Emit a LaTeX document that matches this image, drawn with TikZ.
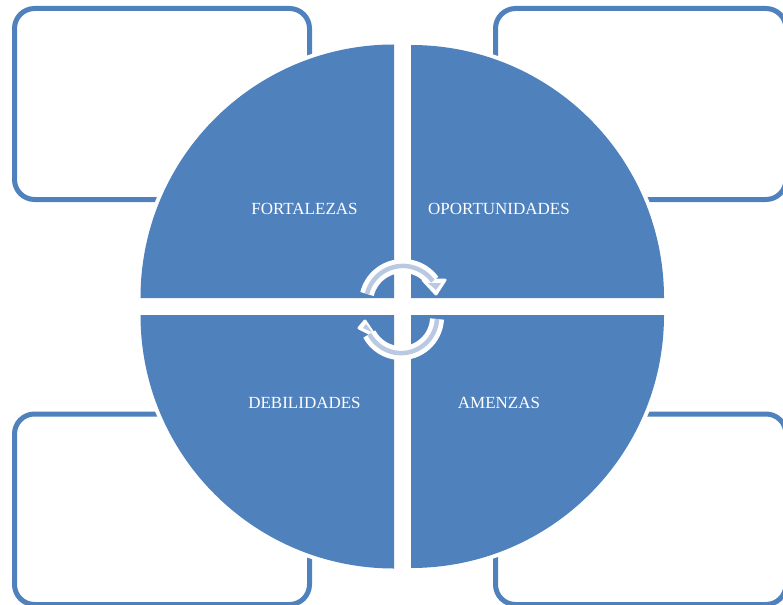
\documentclass[tikz,border=0pt]{standalone}
\usepackage{fontspec}
\setmainfont{Liberation Serif}
\definecolor{swotblue}{HTML}{4F81BD}
\definecolor{swotlight}{HTML}{B9C9E2}
\tikzset{
  x=1pt,y=1pt,
  frame/.style={draw=swotblue,line width=5pt,rounded corners=20pt},
  halo/.style={draw=white,line width=8pt,fill=white,line join=round},
  wedge/.style={fill=swotblue},
  label/.style={text=white,font=\fontsize{17}{20}\selectfont,inner sep=0pt},
  arcwhite/.style={draw=white,line width=14pt},
  arclight/.style={draw=swotlight,line width=4.5pt},
  headwhite/.style={draw=white,fill=white,line width=3pt,line join=round},
  headlight/.style={fill=swotlight},
}
\begin{document}
\begin{tikzpicture}
\useasboundingbox (0,0) rectangle (783,-604);
\clip (0,0) rectangle (783,-604);
\fill[white] (0,0) rectangle (783,-604);
% frames
\draw[frame] (14.5,-8.5) rectangle (309.5,-199.5);
\draw[frame] (495.5,-8.5) rectangle (786,-199.5);
\draw[frame] (14.5,-414) rectangle (309.5,-604.5);
\draw[frame] (495.5,-414) rectangle (786,-604.5);
% halos
\path[halo] (394,-298) -- (140.5,-298) arc (180:90:253.5) -- cycle;
\path[halo] (411,-298) -- (411,-45) arc (90:0:253) -- cycle;
\path[halo] (394,-315) -- (394,-568.5) arc (270:180:253.5) -- cycle;
\path[halo] (411,-315) -- (664,-315) arc (0:-90:253) -- cycle;
% wedges
\path[wedge] (394,-298) -- (140.5,-298) arc (180:90:253.5) -- cycle;
\path[wedge] (411,-298) -- (411,-45) arc (90:0:253) -- cycle;
\path[wedge] (394,-315) -- (394,-568.5) arc (270:180:253.5) -- cycle;
\path[wedge] (411,-315) -- (664,-315) arc (0:-90:253) -- cycle;
% labels
\node[label] (fort) at (304.5,-208.5) {FORTALEZAS};
\node[label] (opor) at (499,-208.5) {OPORTUNIDADES};
\node[label] (debi) at (304.5,-402.5) {DEBILIDADES};
\node[label] (amen) at (499,-402.5) {AMENZAS};
% circular arrows: white casing
\draw[arcwhite] (367,-294) arc (166:36:37);
\path[headwhite] (423,-280) -- (445,-280) -- (436,-294) -- cycle;
\draw[arcwhite] (437,-319) arc (-3:-152:36);
\path[headwhite] (359,-328) -- (365,-321) -- (375,-336) -- cycle;
% circular arrows: light core
\draw[arclight] (367,-294) arc (166:36:37);
\path[headlight] (428,-283) -- (441,-283) -- (436,-290) -- cycle;
\draw[arclight] (437,-319) arc (-3:-152:36);
\path[headlight] (363,-328) -- (366,-324) -- (372,-332) -- cycle;
\end{tikzpicture}
\end{document}
